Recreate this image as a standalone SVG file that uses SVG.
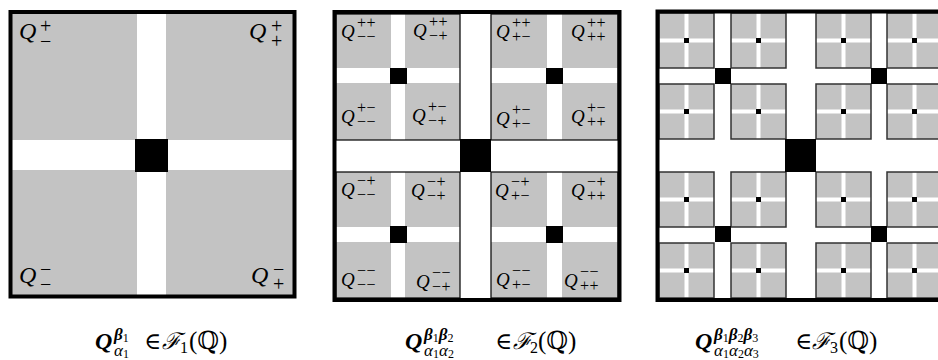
<svg xmlns="http://www.w3.org/2000/svg" xmlns:xlink="http://www.w3.org/1999/xlink" width="938" height="360" viewBox="0 0 938 360">
<style>
.g{fill:#c3c3c3}
.w{fill:#ffffff}
.k{fill:#000000}
.frame{fill:none;stroke:#000;stroke-width:4}
.thin{fill:none;stroke:#111;stroke-width:1.3}
.t{font-family:"Liberation Serif","DejaVu Serif",serif;fill:#000}
.q1{font-style:italic;font-size:24px}
.s1{font-style:normal;font-size:20px}
.q2{font-style:italic;font-size:19px}
.s2{font-style:normal;font-size:16px;letter-spacing:0.5px}
.cq{font-style:italic;font-weight:bold;font-size:24px}
.cb{font-style:italic;font-weight:bold;font-size:17px}
.ca{font-style:italic;font-weight:normal;font-size:17px}
.cd{font-style:normal;font-weight:normal;font-size:12px}
.ct{font-style:normal;font-weight:normal;font-size:23px}
.cp{font-style:normal;font-weight:normal;font-size:25px}
.cf{font-style:italic;font-weight:normal;font-size:23px}
.cn{font-style:normal;font-weight:normal;font-size:16px}
</style>
<defs>
<g id="sq3">
<rect class="g" x="0" y="0" width="55" height="55"/>
<rect class="w" x="25.5" y="0" width="4" height="55"/>
<rect class="w" x="0" y="25.5" width="55" height="4"/>
<rect class="k" x="25" y="25" width="5" height="5"/>
<rect x="0" y="0" width="55" height="55" fill="none" stroke="#333" stroke-width="1.5"/>
</g>
</defs>
<rect x="0" y="0" width="938" height="360" fill="#fff"/>

<g id="panel1">
<rect class="g" x="12" y="14" width="281" height="281"/>
<rect class="w" x="137" y="14" width="29" height="281"/>
<rect class="w" x="12" y="140" width="281" height="30"/>
<rect class="k" x="135" y="139" width="33" height="33"/>
<rect class="frame" x="10.5" y="12" width="284" height="284.5"/>
<text class="t q1" x="19" y="39">Q<tspan class="s1" x="40" y="33">+</tspan><tspan class="s1" x="40" y="48">−</tspan></text>
<text class="t q1" x="249" y="39">Q<tspan class="s1" x="271" y="33">+</tspan><tspan class="s1" x="271" y="48">+</tspan></text>
<text class="t q1" x="19" y="283">Q<tspan class="s1" x="40" y="276">−</tspan><tspan class="s1" x="40" y="291">−</tspan></text>
<text class="t q1" x="251" y="283">Q<tspan class="s1" x="273" y="276">−</tspan><tspan class="s1" x="273" y="291">+</tspan></text>
</g>

<g id="panel2">
<g id="p2-tl">
<rect class="g" x="336" y="14" width="124" height="126"/>
<rect class="w" x="391" y="14" width="14" height="126"/>
<rect class="w" x="336" y="68" width="124" height="15"/>
<rect class="k" x="390" y="68" width="17" height="16"/>
<rect class="thin" x="336" y="14" width="124" height="126"/>
</g>
<g id="p2-tr">
<rect class="g" x="491" y="14" width="127" height="126"/>
<rect class="w" x="547" y="14" width="15" height="126"/>
<rect class="w" x="491" y="68" width="127" height="15"/>
<rect class="k" x="546" y="68" width="17" height="16"/>
<rect class="thin" x="491" y="14" width="127" height="126"/>
</g>
<g id="p2-bl">
<rect class="g" x="336" y="172" width="124" height="126"/>
<rect class="w" x="391" y="172" width="14" height="126"/>
<rect class="w" x="336" y="227" width="124" height="15"/>
<rect class="k" x="390" y="226" width="17" height="17"/>
<rect class="thin" x="336" y="172" width="124" height="126"/>
</g>
<g id="p2-br">
<rect class="g" x="491" y="172" width="127" height="126"/>
<rect class="w" x="547" y="172" width="15" height="126"/>
<rect class="w" x="491" y="227" width="127" height="15"/>
<rect class="k" x="546" y="226" width="17" height="17"/>
<rect class="thin" x="491" y="172" width="127" height="126"/>
</g>
<rect class="k" x="460" y="139" width="31" height="33"/>
<rect class="frame" x="334.5" y="12" width="285" height="288"/>

<text class="t q2" x="341" y="38">Q<tspan class="s2" x="357" y="28">++</tspan><tspan class="s2" x="357" y="42">−−</tspan></text>
<text class="t q2" x="413" y="37">Q<tspan class="s2" x="429" y="27">++</tspan><tspan class="s2" x="429" y="41">−+</tspan></text>
<text class="t q2" x="341" y="123">Q<tspan class="s2" x="357" y="113">+−</tspan><tspan class="s2" x="357" y="127">−−</tspan></text>
<text class="t q2" x="412" y="122">Q<tspan class="s2" x="428" y="112">+−</tspan><tspan class="s2" x="428" y="126">−+</tspan></text>

<text class="t q2" x="496" y="38">Q<tspan class="s2" x="512" y="28">++</tspan><tspan class="s2" x="512" y="42">+−</tspan></text>
<text class="t q2" x="571" y="38">Q<tspan class="s2" x="587" y="28">++</tspan><tspan class="s2" x="587" y="42">++</tspan></text>
<text class="t q2" x="496" y="125">Q<tspan class="s2" x="512" y="115">+−</tspan><tspan class="s2" x="512" y="129">+−</tspan></text>
<text class="t q2" x="571" y="123">Q<tspan class="s2" x="587" y="113">+−</tspan><tspan class="s2" x="587" y="127">++</tspan></text>

<text class="t q2" x="341" y="196">Q<tspan class="s2" x="357" y="186">−+</tspan><tspan class="s2" x="357" y="200">−−</tspan></text>
<text class="t q2" x="411" y="197">Q<tspan class="s2" x="427" y="187">−+</tspan><tspan class="s2" x="427" y="201">−+</tspan></text>
<text class="t q2" x="495" y="197">Q<tspan class="s2" x="511" y="187">−+</tspan><tspan class="s2" x="511" y="201">+−</tspan></text>
<text class="t q2" x="571" y="197">Q<tspan class="s2" x="587" y="187">−+</tspan><tspan class="s2" x="587" y="201">++</tspan></text>

<text class="t q2" x="341" y="286">Q<tspan class="s2" x="357" y="276">−−</tspan><tspan class="s2" x="357" y="290">−−</tspan></text>
<text class="t q2" x="416" y="288">Q<tspan class="s2" x="432" y="278">−−</tspan><tspan class="s2" x="432" y="292">−+</tspan></text>
<text class="t q2" x="496" y="286">Q<tspan class="s2" x="512" y="276">−−</tspan><tspan class="s2" x="512" y="290">+−</tspan></text>
<text class="t q2" x="564" y="287">Q<tspan class="s2" x="580" y="277">−−</tspan><tspan class="s2" x="580" y="291">++</tspan></text>
</g>

<g id="panel3">
<use xlink:href="#sq3" x="659" y="13"/>
<use xlink:href="#sq3" x="731" y="13"/>
<use xlink:href="#sq3" x="816" y="13"/>
<use xlink:href="#sq3" x="887" y="13"/>
<use xlink:href="#sq3" x="659" y="84"/>
<use xlink:href="#sq3" x="731" y="84"/>
<use xlink:href="#sq3" x="816" y="84"/>
<use xlink:href="#sq3" x="887" y="84"/>
<use xlink:href="#sq3" x="659" y="172"/>
<use xlink:href="#sq3" x="731" y="172"/>
<use xlink:href="#sq3" x="816" y="172"/>
<use xlink:href="#sq3" x="887" y="172"/>
<use xlink:href="#sq3" x="659" y="243"/>
<use xlink:href="#sq3" x="731" y="243"/>
<use xlink:href="#sq3" x="816" y="243"/>
<use xlink:href="#sq3" x="887" y="243"/>
<rect class="k" x="715" y="68" width="16" height="16"/>
<rect class="k" x="871" y="68" width="16" height="16"/>
<rect class="k" x="715" y="226" width="16" height="16"/>
<rect class="k" x="871" y="226" width="16" height="16"/>
<rect class="k" x="785" y="139" width="31" height="33"/>
<rect class="frame" x="657.5" y="11.5" width="286" height="288.5"/>
</g>

<g id="captions">
<text class="t cq" x="95" y="349">Q<tspan class="cb" x="114" y="340">β</tspan><tspan class="cd" dy="2">1</tspan><tspan class="ca" x="114" y="356">α</tspan><tspan class="cd" dy="2">1</tspan><tspan class="ct" x="144" y="349">∈</tspan><tspan class="cf" x="162" y="349">ℱ</tspan><tspan class="cn" x="180" dy="4">1</tspan><tspan class="cp" x="189" dy="-4">(ℚ)</tspan></text>

<text class="t cq" x="405" y="349">Q<tspan class="cb" x="424" y="340">β</tspan><tspan class="cd" dy="2">1</tspan><tspan class="cb" dy="-2">β</tspan><tspan class="cd" dy="2">2</tspan><tspan class="ca" x="424" y="356">α</tspan><tspan class="cd" dy="2">1</tspan><tspan class="ca" dy="-2">α</tspan><tspan class="cd" dy="2">2</tspan><tspan class="ct" x="495" y="349">∈</tspan><tspan class="cf" x="513" y="349">ℱ</tspan><tspan class="cn" x="530" dy="4">2</tspan><tspan class="cp" x="538" dy="-4">(ℚ)</tspan></text>

<text class="t cq" x="695" y="349">Q<tspan class="cb" x="714" y="340">β</tspan><tspan class="cd" dy="2">1</tspan><tspan class="cb" dy="-2">β</tspan><tspan class="cd" dy="2">2</tspan><tspan class="cb" dy="-2">β</tspan><tspan class="cd" dy="2">3</tspan><tspan class="ca" x="714" y="356">α</tspan><tspan class="cd" dy="2">1</tspan><tspan class="ca" dy="-2">α</tspan><tspan class="cd" dy="2">2</tspan><tspan class="ca" dy="-2">α</tspan><tspan class="cd" dy="2">3</tspan><tspan class="ct" x="795" y="349">∈</tspan><tspan class="cf" x="812" y="349">ℱ</tspan><tspan class="cn" x="830" dy="4">3</tspan><tspan class="cp" x="839" dy="-4">(ℚ)</tspan></text>
</g>
</svg>
